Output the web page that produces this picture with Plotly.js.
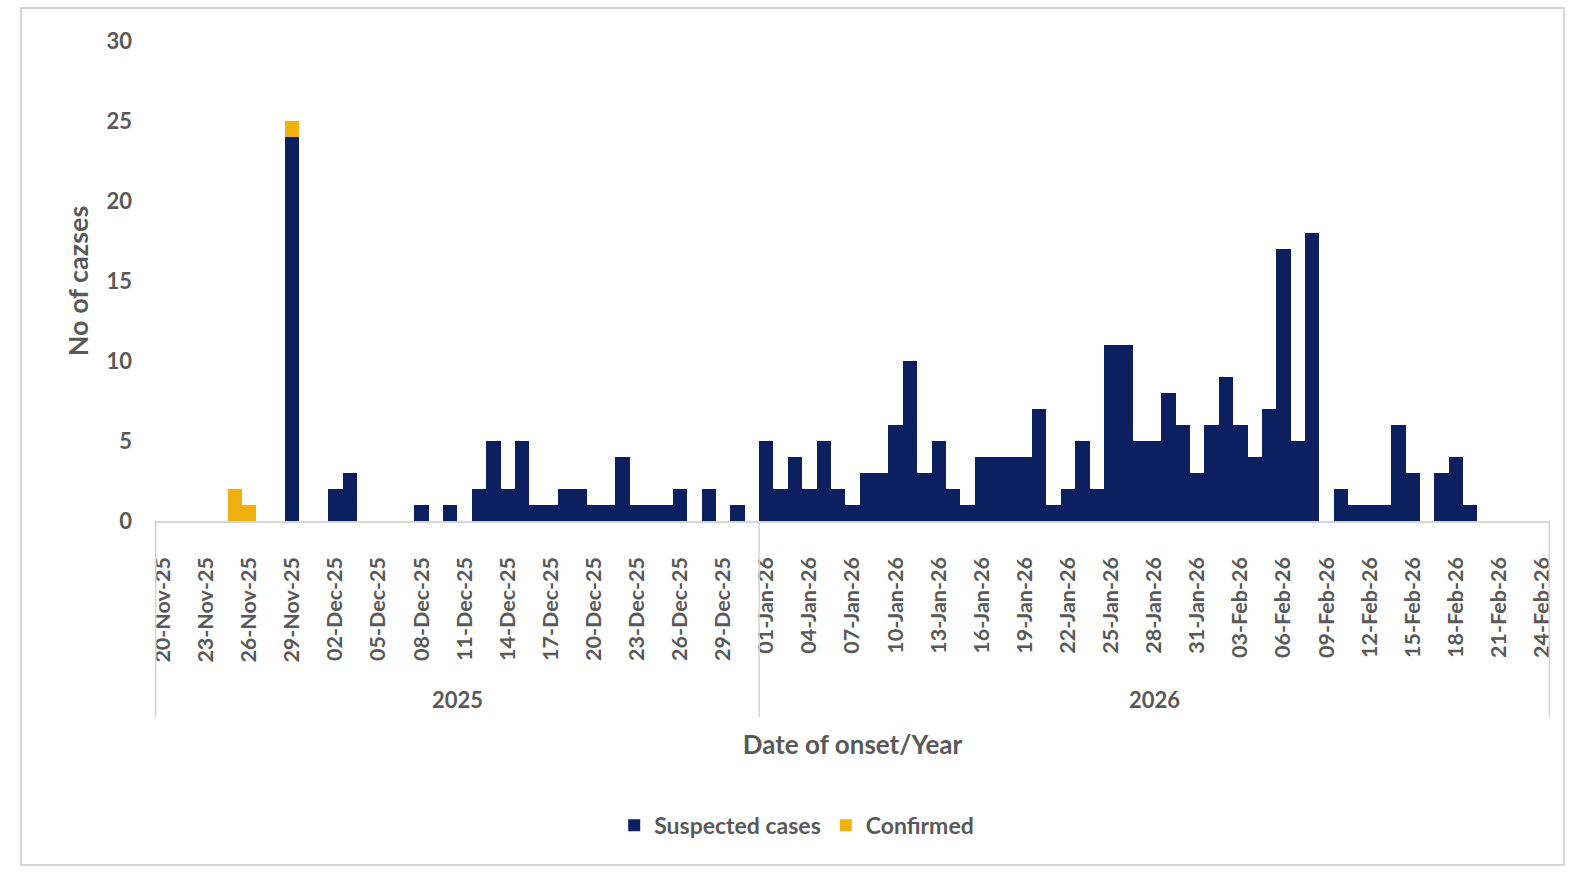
<!DOCTYPE html>
<html>
<head>
<meta charset="utf-8">
<script src="https://cdn.plot.ly/plotly-3.0.1.min.js"></script>
<style>
  html, body { margin: 0; padding: 0; background: #ffffff; }
  #frame { position: absolute; left: 20px; top: 7px; width: 1545px; height: 859px; border: 2px solid #d6d6d6; box-sizing: border-box; }
  #chart { position: absolute; left: 0; top: 0; width: 1575px; height: 876px; }
</style>
</head>
<body>
<div id="frame"></div>
<div id="chart"></div>
<script>
// Dates of onset (one category per day)
const dates = [
  "20-Nov-25","21-Nov-25","22-Nov-25","23-Nov-25","24-Nov-25","25-Nov-25","26-Nov-25","27-Nov-25","28-Nov-25","29-Nov-25","30-Nov-25",
  "01-Dec-25","02-Dec-25","03-Dec-25","04-Dec-25","05-Dec-25","06-Dec-25","07-Dec-25","08-Dec-25","09-Dec-25","10-Dec-25",
  "11-Dec-25","12-Dec-25","13-Dec-25","14-Dec-25","15-Dec-25","16-Dec-25","17-Dec-25","18-Dec-25","19-Dec-25","20-Dec-25",
  "21-Dec-25","22-Dec-25","23-Dec-25","24-Dec-25","25-Dec-25","26-Dec-25","27-Dec-25","28-Dec-25","29-Dec-25","30-Dec-25","31-Dec-25",
  "01-Jan-26","02-Jan-26","03-Jan-26","04-Jan-26","05-Jan-26","06-Jan-26","07-Jan-26","08-Jan-26","09-Jan-26","10-Jan-26",
  "11-Jan-26","12-Jan-26","13-Jan-26","14-Jan-26","15-Jan-26","16-Jan-26","17-Jan-26","18-Jan-26","19-Jan-26","20-Jan-26",
  "21-Jan-26","22-Jan-26","23-Jan-26","24-Jan-26","25-Jan-26","26-Jan-26","27-Jan-26","28-Jan-26","29-Jan-26","30-Jan-26","31-Jan-26",
  "01-Feb-26","02-Feb-26","03-Feb-26","04-Feb-26","05-Feb-26","06-Feb-26","07-Feb-26","08-Feb-26","09-Feb-26","10-Feb-26",
  "11-Feb-26","12-Feb-26","13-Feb-26","14-Feb-26","15-Feb-26","16-Feb-26","17-Feb-26","18-Feb-26","19-Feb-26","20-Feb-26",
  "21-Feb-26","22-Feb-26","23-Feb-26","24-Feb-26"
];

const suspected = [
  0,0,0,0,0, 0,0,0,0,24, 0,
  0,2,3,0,0, 0,0,1,0,1,
  0,2,5,2,5, 1,1,2,2,1,
  1,4,1,1,1, 2,0,2,0,1,0,
  5,2,4,2,5, 2,1,3,3,6,
  10,3,5,2,1, 4,4,4,4,7,
  1,2,5,2,11, 11,5,5,8,6,3,
  6,9,6,4,7, 17,5,18,0,2,
  1,1,1,6,3, 0,3,4,1,0,
  0,0,0,0
];

const confirmed = [
  0,0,0,0,0, 2,1,0,0,1, 0,
  0,0,0,0,0, 0,0,0,0,0,
  0,0,0,0,0, 0,0,0,0,0,
  0,0,0,0,0, 0,0,0,0,0,0,
  0,0,0,0,0, 0,0,0,0,0,
  0,0,0,0,0, 0,0,0,0,0,
  0,0,0,0,0, 0,0,0,0,0,0,
  0,0,0,0,0, 0,0,0,0,0,
  0,0,0,0,0, 0,0,0,0,0,
  0,0,0,0
];

const years = ["2025", "2026"];
const yearSuffix = ["-25", "-26"];

// Tick labels shown every third day
const tickLabels = dates.filter((d, i) => i % 3 === 0);

const FONT = "Lato, 'Open Sans', sans-serif";
const TXT = "#595959";

// Year groups (first/last category index)
const groups = years.map((y, k) => {
  const idx = dates.map((d, i) => d.endsWith(yearSuffix[k]) ? i : -1).filter(i => i >= 0);
  return { year: y, first: idx[0], last: idx[idx.length - 1] };
});

const dividerBottom = -0.408;
const shapes = [];
const bounds = [groups[0].first - 0.5].concat(groups.map(g => g.last + 0.5));
bounds.forEach(b => {
  shapes.push({ type: "line", xref: "x", yref: "paper", x0: b, x1: b, y0: 0, y1: dividerBottom,
    line: { color: "#d6d6d6", width: 1.5 } });
});

const annotations = groups.map(g => ({
  text: g.year, xref: "x", yref: "paper", x: (g.first + g.last) / 2, y: -0.371,
  xanchor: "center", yanchor: "middle", showarrow: false,
  font: { family: FONT, size: 22, color: TXT, weight: "bold" }
}));

const traces = [
  { type: "bar", name: "Suspected cases", x: dates, y: suspected,
    marker: { color: "#0c1f5e", line: { width: 0 } } },
  { type: "bar", name: "Confirmed", x: dates, y: confirmed,
    marker: { color: "#eeb10f", line: { width: 0 } } }
];

const layout = {
  width: 1575, height: 876,
  margin: { l: 155, r: 25, t: 41, b: 355 },
  paper_bgcolor: "rgba(0,0,0,0)",
  plot_bgcolor: "rgba(0,0,0,0)",
  barmode: "stack",
  bargap: 0,
  font: { family: FONT, color: TXT },
  xaxis: {
    type: "category",
    tickmode: "array",
    tickvals: tickLabels,
    ticktext: tickLabels,
    tickangle: -90,
    ticks: "",
    ticklabelstandoff: 26,
    tickfont: { family: FONT, size: 21.5, color: TXT, weight: "bold" },
    showline: true, linecolor: "#d6d6d6", linewidth: 1.5,
    showgrid: false, zeroline: false,
    automargin: false,
    title: { text: "Date of onset/Year", standoff: 74,
      font: { family: FONT, size: 26, color: TXT, weight: "bold" } }
  },
  yaxis: {
    range: [0, 30], dtick: 5,
    showgrid: false, zeroline: false, showline: false,
    ticks: "",
    ticklabelstandoff: 22,
    tickfont: { family: FONT, size: 22, color: TXT, weight: "bold" },
    automargin: false,
    title: { text: "No of cazses", standoff: 10,
      font: { family: FONT, size: 27, color: TXT, weight: "bold" } }
  },
  legend: {
    orientation: "h", x: 0.46, xanchor: "center", y: -0.634, yanchor: "middle",
    font: { family: FONT, size: 23, color: TXT, weight: "bold" },
    itemwidth: 30, traceorder: "normal"
  },
  shapes: shapes,
  annotations: annotations
};

Plotly.newPlot("chart", traces, layout, { displayModeBar: false, staticPlot: true });
</script>
</body>
</html>
